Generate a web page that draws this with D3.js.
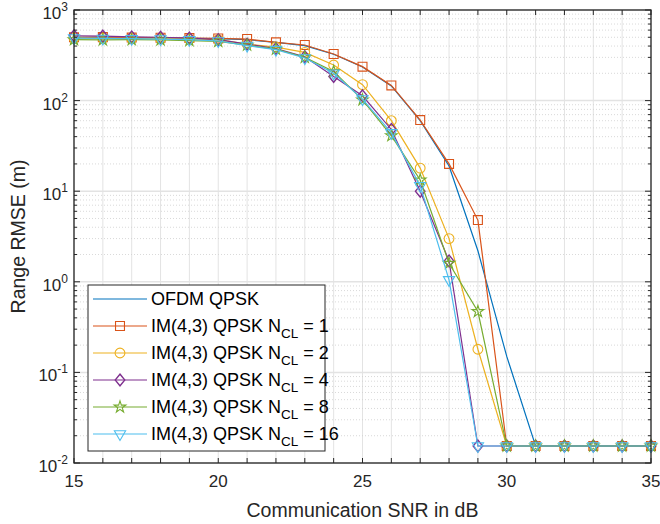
<!DOCTYPE html>
<html>
<head>
<meta charset="utf-8">
<script src="https://cdn.jsdelivr.net/npm/d3@7"></script>
<style>
  body { margin: 0; background: #fff; }
  svg { display: block; font-family: "Liberation Sans", Arial, sans-serif; }
</style>
</head>
<body>
<svg id="chart" width="660" height="524"></svg>
<script>
// SNR points (dB)
const snr = [15, 16, 17, 18, 19, 20, 21, 22, 23, 24, 25, 26, 27, 28, 29, 30, 31, 32, 33, 34, 35];

// range RMSE (m) per curve
const ofdmQpsk = [500, 498, 495, 492, 488, 482, 470, 440, 405, 325, 235, 145, 60, 19, 2.2, 0.15, 0.0154, 0.0154, 0.0154, 0.0154, 0.0154];
const imNcl1  = [500, 502, 496, 494, 490, 485, 478, 440, 411, 327, 237, 147, 61, 20, 4.8, 0.0154, 0.0154, 0.0154, 0.0154, 0.0154, 0.0154];
const imNcl2  = [490, 488, 485, 482, 478, 470, 420, 390, 340, 247, 150, 60, 18, 3.0, 0.18, 0.0154, 0.0154, 0.0154, 0.0154, 0.0154, 0.0154];
const imNcl4  = [520, 515, 505, 500, 490, 470, 420, 375, 305, 185, 113, 48, 10, 1.7, 0.0154, 0.0154, 0.0154, 0.0154, 0.0154, 0.0154, 0.0154];
const imNcl8  = [470, 468, 470, 468, 460, 450, 410, 370, 300, 210, 102, 41, 13.3, 1.6, 0.47, 0.0154, 0.0154, 0.0154, 0.0154, 0.0154, 0.0154];
const imNcl16 = [490, 485, 482, 478, 470, 455, 405, 365, 295, 200, 104, 44, 11.5, 1.05, 0.0154, 0.0154, 0.0154, 0.0154, 0.0154, 0.0154, 0.0154];

const xTickLabels = [15, 20, 25, 30, 35];
const yDecades = [-2, -1, 0, 1, 2, 3];

const seriesNames = ['OFDM QPSK', '1', '2', '4', '8', '16'];
const seriesValues = [ofdmQpsk, imNcl1, imNcl2, imNcl4, imNcl8, imNcl16];
const seriesColors = ['#0072BD', '#D95319', '#EDB120', '#7E2F8E', '#77AC30', '#4DBEEE'];
const seriesMarkers = [null, 'square', 'circle', 'diamond', 'star', 'triangle'];

const svg = d3.select('#chart');
const plotLeft = 74, plotRight = 651, plotTop = 10, plotBottom = 463;

const x = d3.scaleLinear().domain([15, 35]).range([plotLeft, plotRight]);
const y = d3.scaleLog().domain([0.01, 1000]).range([plotBottom, plotTop]);

// grid
const grid = svg.append('g');
snr.forEach(v => {
  grid.append('line')
    .attr('x1', x(v)).attr('x2', x(v)).attr('y1', plotTop).attr('y2', plotBottom)
    .attr('stroke', '#e3e3e3').attr('stroke-width', 1);
});
yDecades.forEach(k => {
  if (k < 3) {
    for (let m = 2; m <= 9; m++) {
      const yy = y(m * Math.pow(10, k));
      grid.append('line')
        .attr('x1', plotLeft).attr('x2', plotRight).attr('y1', yy).attr('y2', yy)
        .attr('stroke', '#cfcfcf').attr('stroke-width', 0.8)
        .attr('stroke-dasharray', '1,2');
    }
  }
  grid.append('line')
    .attr('x1', plotLeft).attr('x2', plotRight).attr('y1', y(Math.pow(10, k))).attr('y2', y(Math.pow(10, k)))
    .attr('stroke', '#e3e3e3').attr('stroke-width', 1.5);
});

// curves
const line = d3.line().x((d, i) => x(snr[i])).y(d => y(d));
const symbolTypes = {
  square: d3.symbolSquare, circle: d3.symbolCircle, diamond: d3.symbolDiamond,
  star: d3.symbolStar, triangle: d3.symbolTriangle
};
const symbolSizes = { square: 80, circle: 75, diamond: 40, star: 42, triangle: 55 };

function drawMarker(g, type, cx, cy, color) {
  const path = d3.symbol().type(symbolTypes[type]).size(symbolSizes[type])();
  let t = 'translate(' + cx + ',' + cy + ')';
  if (type === 'triangle') t += ' rotate(180)';
  if (type === 'diamond') t += ' scale(1.4,1)';
  g.append('path').attr('d', path).attr('transform', t)
    .attr('fill', 'none').attr('stroke', color).attr('stroke-width', 1.1);
}

seriesValues.forEach((vals, s) => {
  const g = svg.append('g');
  g.append('path').datum(vals).attr('d', line)
    .attr('fill', 'none').attr('stroke', seriesColors[s]).attr('stroke-width', 1.2);
  if (seriesMarkers[s]) {
    vals.forEach((v, i) => drawMarker(g, seriesMarkers[s], x(snr[i]), y(v), seriesColors[s]));
  }
});

// axes box and ticks
const axisColor = '#262626';
const axes = svg.append('g');
axes.append('rect').attr('x', plotLeft).attr('y', plotTop).attr('width', plotRight - plotLeft).attr('height', plotBottom - plotTop)
  .attr('fill', 'none').attr('stroke', axisColor).attr('stroke-width', 1.3);

snr.forEach(v => {
  axes.append('line').attr('x1', x(v)).attr('x2', x(v)).attr('y1', plotBottom).attr('y2', plotBottom - 5)
    .attr('stroke', axisColor).attr('stroke-width', 1);
  axes.append('line').attr('x1', x(v)).attr('x2', x(v)).attr('y1', plotTop).attr('y2', plotTop + 5)
    .attr('stroke', axisColor).attr('stroke-width', 1);
});
xTickLabels.forEach(v => {
  axes.append('text').attr('x', x(v)).attr('y', plotBottom + 24)
    .attr('text-anchor', 'middle').attr('font-size', 17).attr('fill', axisColor).text(v);
});

yDecades.forEach(k => {
  const yy = y(Math.pow(10, k));
  [[plotLeft, plotLeft + 6], [plotRight, plotRight - 6]].forEach(([a, b]) => {
    axes.append('line').attr('x1', a).attr('x2', b).attr('y1', yy).attr('y2', yy)
      .attr('stroke', axisColor).attr('stroke-width', 1);
  });
  if (k < 3) {
    for (let m = 2; m <= 9; m++) {
      const ym = y(m * Math.pow(10, k));
      [[plotLeft, plotLeft + 3], [plotRight, plotRight - 3]].forEach(([a, b]) => {
        axes.append('line').attr('x1', a).attr('x2', b).attr('y1', ym).attr('y2', ym)
          .attr('stroke', axisColor).attr('stroke-width', 1);
      });
    }
  }
  const t = axes.append('text').attr('x', plotLeft - 6).attr('y', yy + 9)
    .attr('text-anchor', 'end').attr('font-size', 17).attr('fill', axisColor);
  t.append('tspan').text('10');
  t.append('tspan').attr('dy', -8).attr('font-size', 12).text(k);
});

// axis titles
svg.append('text').attr('x', (plotLeft + plotRight) / 2).attr('y', 517)
  .attr('text-anchor', 'middle').attr('font-size', 19.5).attr('fill', axisColor)
  .text('Communication SNR in dB');
svg.append('text').attr('transform', 'translate(25,' + ((plotTop + plotBottom) / 2) + ') rotate(-90)')
  .attr('text-anchor', 'middle').attr('font-size', 19.5).attr('fill', axisColor)
  .text('Range RMSE (m)');

// legend
const lg = svg.append('g');
lg.append('rect').attr('x', 88).attr('y', 285).attr('width', 237).attr('height', 166)
  .attr('fill', '#fff').attr('stroke', axisColor).attr('stroke-width', 1);
seriesNames.forEach((name, s) => {
  const ly = 299 + s * 27;
  lg.append('line').attr('x1', 93).attr('x2', 147).attr('y1', ly).attr('y2', ly)
    .attr('stroke', seriesColors[s]).attr('stroke-width', 1.2);
  if (seriesMarkers[s]) drawMarker(lg, seriesMarkers[s], 120, ly, seriesColors[s]);
  const t = lg.append('text').attr('x', 151).attr('y', ly + 6)
    .attr('font-size', 18).attr('fill', '#000');
  if (s === 0) {
    t.text(name);
  } else {
    t.append('tspan').text('IM(4,3) QPSK N');
    t.append('tspan').attr('dy', 6).attr('font-size', 13.5).text('CL');
    t.append('tspan').attr('dy', -6).text(' = ' + name);
  }
});
</script>
</body>
</html>
